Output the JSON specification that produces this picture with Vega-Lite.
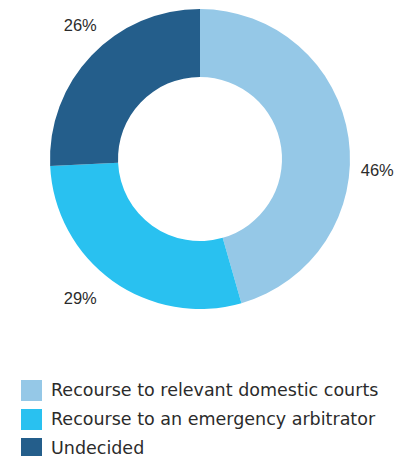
{
  "$schema": "https://vega.github.io/schema/vega-lite/v6.json",
  "width": 400,
  "height": 318,
  "padding": 0,
  "background": "white",
  "config": {"view": {"stroke": null}, "font": "Liberation Sans"},
  "data": {
    "values": [
      {"category": "Recourse to relevant domestic courts", "value": 46, "order": 1, "label": "46%"},
      {"category": "Recourse to an emergency arbitrator", "value": 29, "order": 2, "label": "29%"},
      {"category": "Undecided", "value": 26, "order": 3, "label": "26%"}
    ]
  },
  "encoding": {
    "theta": {"field": "value", "type": "quantitative", "stack": true},
    "order": {"field": "order", "type": "quantitative"}
  },
  "layer": [
    {
      "mark": {"type": "arc", "outerRadius": 150, "innerRadius": 82},
      "encoding": {
        "color": {
          "field": "category",
          "type": "nominal",
          "sort": ["Recourse to relevant domestic courts", "Recourse to an emergency arbitrator", "Undecided"],
          "scale": {
            "domain": ["Recourse to relevant domestic courts", "Recourse to an emergency arbitrator", "Undecided"],
            "range": ["#95c8e7", "#29c1f0", "#245e8b"]
          },
          "legend": {
            "title": null,
            "orient": "none",
            "legendX": 21,
            "legendY": 380,
            "symbolType": "square",
            "symbolSize": 441,
            "symbolStrokeWidth": 0,
            "symbolOpacity": 1,
            "labelFont": "DejaVu Sans",
            "labelFontSize": 17.5,
            "labelColor": "#2b2b2b",
            "labelOffset": 9,
            "labelLimit": 400,
            "rowPadding": 8
          }
        }
      }
    },
    {
      "mark": {"type": "text", "radius": 178, "dx": 1, "dy": 37, "fontSize": 16.5, "fill": "#2b2b2b"},
      "encoding": {"text": {"condition": {"test": "datum.order == 1", "field": "label"}, "value": ""}}
    },
    {
      "mark": {"type": "text", "radius": 178, "dx": -16, "dy": -5, "fontSize": 16.5, "fill": "#2b2b2b"},
      "encoding": {"text": {"condition": {"test": "datum.order == 2", "field": "label"}, "value": ""}}
    },
    {
      "mark": {"type": "text", "radius": 178, "dx": 9, "dy": -10, "fontSize": 16.5, "fill": "#2b2b2b"},
      "encoding": {"text": {"condition": {"test": "datum.order == 3", "field": "label"}, "value": ""}}
    }
  ]
}
